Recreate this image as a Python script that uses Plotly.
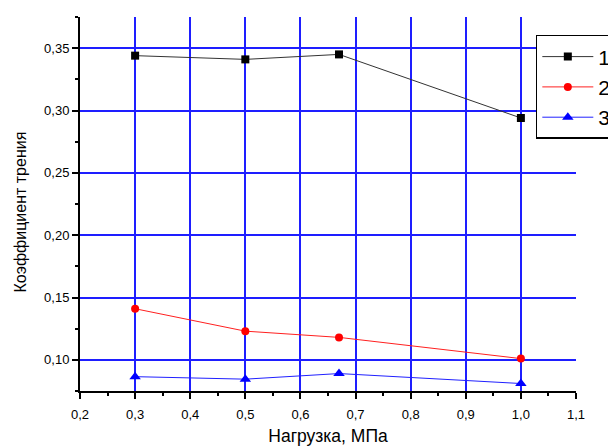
import plotly.graph_objects as go

loads = [0.3, 0.5, 0.67, 1.0]
series1 = [0.344, 0.341, 0.345, 0.294]
series2 = [0.141, 0.123, 0.118, 0.101]
series3 = [0.0865, 0.0845, 0.089, 0.081]
names = ["1", "2", "3"]
grid_x = [0.3, 0.4, 0.5, 0.6, 0.7, 0.8, 0.9, 1.0]

fig = go.Figure()
fig.add_trace(go.Scatter(x=loads, y=series1, name=names[0], mode="lines+markers",
                         line=dict(color="#333333", width=1),
                         marker=dict(symbol="square", size=8, color="black")))
fig.add_trace(go.Scatter(x=loads, y=series2, name=names[1], mode="lines+markers",
                         line=dict(color="#ff2020", width=1),
                         marker=dict(symbol="circle", size=8, color="#ff0000")))
fig.add_trace(go.Scatter(x=loads, y=series3, name=names[2], mode="lines+markers",
                         line=dict(color="#2020ff", width=1),
                         marker=dict(symbol="triangle-up", size=10, color="#0000ff")))
# invisible helper trace on the grid-only overlay axis
fig.add_trace(go.Scatter(x=[0.2], y=[None], xaxis="x2", showlegend=False,
                         hoverinfo="skip", mode="markers", marker=dict(opacity=0)))

axis_font = dict(family="Liberation Sans, Arial, sans-serif", size=13, color="black")
grid_color = "#1e1eff"
fig.update_layout(
    width=660, height=446,
    margin=dict(l=72, r=92, t=9, b=63, autoexpand=False),
    paper_bgcolor="white", plot_bgcolor="white",
    separators=",.",
    font=dict(family="Liberation Sans, Arial, sans-serif", color="black"),
    showlegend=True,
    legend=dict(x=0.919, y=0.952, xanchor="left", yanchor="top",
                bgcolor="white", bordercolor="black", borderwidth=1.5,
                font=dict(size=21, family="Liberation Sans, Arial, sans-serif"),
                itemwidth=51, tracegroupgap=0),
    xaxis=dict(range=[0.2, 1.1], tick0=0.2, dtick=0.1, tickformat=".1f",
               showline=True, linecolor="black", linewidth=2,
               ticks="outside", ticklen=6, tickwidth=1.5, tickcolor="black",
               minor=dict(ticks="outside", ticklen=3, dtick=0.05, tickcolor="black", showgrid=False),
               showgrid=False, zeroline=False, tickfont=axis_font,
               ticklabelstandoff=4,
               title=dict(text="Нагрузка, МПа", font=dict(size=17.5), standoff=9)),
    xaxis2=dict(overlaying="x", matches="x", range=[0.2, 1.1], tickvals=grid_x,
                showticklabels=False, ticks="", showline=False,
                showgrid=True, gridcolor=grid_color, gridwidth=2, zeroline=False),
    yaxis=dict(range=[0.075, 0.375], tick0=0.1, dtick=0.05, tickformat=".2f",
               showline=True, linecolor="black", linewidth=2,
               ticks="outside", ticklen=6, tickwidth=1.5, tickcolor="black",
               minor=dict(ticks="outside", ticklen=3, dtick=0.025, tickcolor="black", showgrid=False),
               showgrid=True, gridcolor=grid_color, gridwidth=2,
               zeroline=False, tickfont=axis_font),
    annotations=[dict(text="Коэффициент трения", textangle=-90, showarrow=False,
                      xref="paper", yref="paper", x=-0.121, y=0.48,
                      xanchor="center", yanchor="middle",
                      font=dict(size=16, family="Liberation Sans, Arial, sans-serif", color="black"))],
)

fig.write_html("out.html")
